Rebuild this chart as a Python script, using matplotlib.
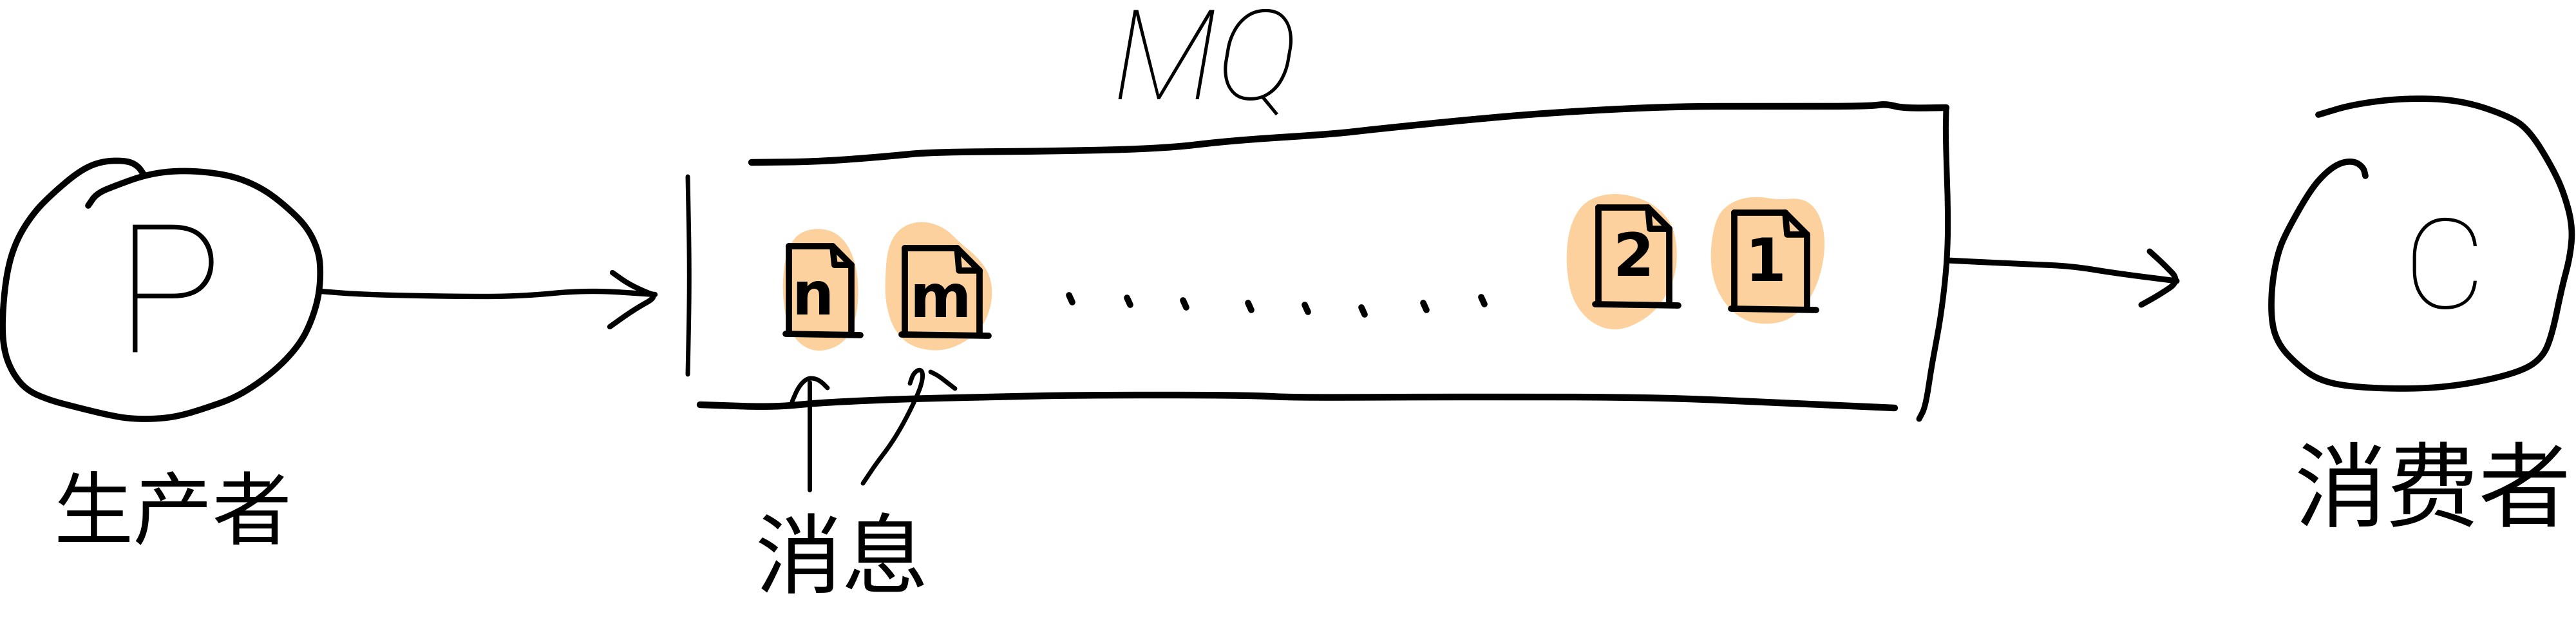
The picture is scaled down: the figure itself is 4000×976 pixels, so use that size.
import numpy as np
import matplotlib
matplotlib.use('Agg')
import matplotlib.pyplot as plt
from matplotlib.patches import Polygon

# labels
producer_label = '生产者'
consumer_label = '消费者'
message_label = '消息'
queue_label = 'MQ'
producer_mark = 'P'
consumer_mark = 'C'
msg_names = ['n', 'm', '2', '1']

# document icons (left, right, top, bottom) and text centres
doc_x0 = [1225, 1405, 2482, 2693]
doc_x1 = [1322, 1521, 2592, 2806]
doc_y0 = [382, 385, 322, 330]
doc_y1 = [518, 519, 472, 479]
name_x = [1262, 1460, 2537, 2742]
name_y = [462, 466, 402, 410]

# orange blobs behind the documents
blob_n = [(1214, 450), (1220, 392), (1238, 362), (1270, 353), (1302, 362), (1324, 392),
          (1334, 440), (1330, 495), (1312, 532), (1275, 547), (1243, 537), (1222, 505)]
blob_m = [(1374, 440), (1378, 383), (1398, 352), (1432, 342), (1467, 353), (1492, 378),
          (1517, 398), (1537, 425), (1542, 460), (1532, 497), (1512, 522), (1480, 540),
          (1450, 545), (1413, 537), (1388, 512), (1376, 475)]
blob_2 = [(2431, 400), (2438, 348), (2460, 312), (2500, 299), (2542, 305), (2575, 322),
          (2598, 350), (2605, 390), (2601, 430), (2583, 467), (2557, 494), (2520, 512),
          (2488, 510), (2458, 490), (2438, 456)]
blob_1 = [(2655, 390), (2665, 335), (2690, 312), (2725, 304), (2760, 310), (2800, 307),
          (2824, 328), (2835, 370), (2829, 422), (2810, 467), (2780, 496), (2745, 504),
          (2708, 498), (2678, 472), (2660, 436)]
blobs = [blob_n, blob_m, blob_2, blob_1]

# the dots between the messages
dot_x = [1660, 1750, 1837, 1938, 2026, 2114, 2210, 2300]
dot_y = [458, 462, 466, 470, 473, 477, 470, 461]

# hand drawn strokes
producer_circle = [(137, 319), (150, 300), (182, 287), (224, 272), (267, 265), (316, 266),
                   (365, 274), (407, 292), (442, 318), (477, 352), (495, 390), (498, 423),
                   (495, 460), (484, 497), (468, 530), (440, 563), (405, 592), (365, 617),
                   (323, 632), (281, 645), (246, 650), (203, 650), (168, 644), (119, 632),
                   (77, 621), (42, 606), (20, 580), (6, 545), (3, 497), (10, 423), (25, 373),
                   (52, 330), (84, 298), (125, 264), (158, 250), (196, 249), (214, 257), (224, 272)]
producer_arrow = [(498, 452), (561, 457), (701, 460), (807, 460), (912, 450), (1017, 457)]
producer_head = [(951, 423), (975, 440), (1000, 452), (1021, 460), (985, 480), (947, 507)]

mq_left = [(1068, 274), (1071, 430), (1068, 581)]
mq_top = [(1167, 252), (1268, 251), (1375, 243), (1442, 236), (1603, 235), (1804, 231),
          (1911, 218), (2071, 208), (2138, 200), (2339, 180), (2473, 171), (2607, 165),
          (2741, 165), (2902, 165), (2928, 161), (2955, 168), (3022, 167)]
mq_right = [(3022, 167), (3021, 212), (3025, 323), (3024, 402), (3014, 491), (3000, 564),
            (2990, 631), (2980, 650)]
mq_bottom = [(1087, 628), (1201, 632), (1268, 625), (1402, 619), (1536, 616), (1670, 613),
             (1937, 613), (2004, 617), (2205, 616), (2339, 616), (2473, 616), (2607, 618),
             (2741, 624), (2942, 633)]

consumer_arrow = [(3024, 404), (3084, 407), (3151, 410), (3218, 413), (3285, 424), (3380, 436)]
consumer_head = [(3338, 390), (3360, 410), (3385, 436), (3352, 458), (3325, 473)]
consumer_circle = [(3600, 178), (3653, 162), (3733, 152), (3821, 155), (3901, 182), (3930, 206),
                   (3961, 256), (3981, 298), (3995, 351), (3991, 398), (3978, 446), (3963, 519),
                   (3948, 555), (3914, 577), (3834, 596), (3754, 604), (3653, 601), (3600, 590),
                   (3566, 565), (3539, 536), (3527, 502), (3527, 446), (3537, 391), (3553, 355),
                   (3588, 294), (3613, 266), (3635, 252), (3656, 250), (3670, 260), (3673, 273)]

msg_arrow1 = [(1257, 760), (1257, 660), (1257, 593)]
msg_head1 = [(1230, 623), (1240, 600), (1253, 587), (1265, 587), (1275, 592), (1285, 602)]
msg_arrow2 = [(1340, 750), (1360, 720), (1383, 690), (1403, 657), (1423, 617), (1432, 593),
              (1433, 577), (1427, 573), (1418, 580), (1413, 595)]
msg_head2 = [(1445, 577), (1457, 583), (1470, 593), (1483, 603)]

ORANGE = '#fcd19e'
INK = 'black'
CJK = ['Noto Sans CJK SC', 'DejaVu Sans']


def smooth(pts, closed=False, rounds=4):
    # Chaikin corner cutting, keeps the ends of an open stroke
    p = np.asarray(pts, float)
    for _ in range(rounds):
        q = np.roll(p, -1, axis=0) if closed else p[1:]
        a = p if closed else p[:-1]
        cut = np.empty((2 * len(a), 2))
        cut[0::2] = 0.75 * a + 0.25 * q
        cut[1::2] = 0.25 * a + 0.75 * q
        p = cut if closed else np.vstack([p[0], cut, p[-1]])
    return p


def stroke(ax, pts, lw=7):
    s = smooth(pts)
    ax.plot(s[:, 0], s[:, 1], color=INK, lw=lw, solid_capstyle='round', solid_joinstyle='round')


fig = plt.figure(figsize=(40, 9.76), dpi=100)
ax = fig.add_axes([0, 0, 1, 1])
ax.set_xlim(0, 4000)
ax.set_ylim(976, 0)
ax.axis('off')

# producer
stroke(ax, producer_circle, 7)
stroke(ax, producer_arrow, 6)
stroke(ax, producer_head, 6)
ax.text(262, 470, producer_mark, ha='center', va='center', fontsize=200,
        family=['Roboto', 'DejaVu Sans'], fontweight='light', color=INK)
t_prod = ax.text(268, 800, producer_label, ha='center', va='center', fontsize=90,
                 family=CJK, color=INK)

# queue box
stroke(ax, mq_left, 5)
stroke(ax, mq_top, 7.5)
stroke(ax, mq_right, 6.5)
stroke(ax, mq_bottom, 7.5)
t_mq = ax.text(1871, 100, queue_label, ha='center', va='center', fontsize=140, style='italic',
               family=['Roboto', 'DejaVu Sans'], fontweight='light', color=INK)

# messages
for b in blobs:
    ax.add_patch(Polygon(smooth(b, closed=True), closed=True, facecolor=ORANGE,
                         edgecolor='none', zorder=1))

for x0, x1, y0, y1, nx, ny, name in zip(doc_x0, doc_x1, doc_y0, doc_y1, name_x, name_y, msg_names):
    f = 0.3 * (x1 - x0)
    kw = dict(color=INK, lw=7, solid_capstyle='round', solid_joinstyle='round', zorder=3)
    ax.plot([x0, x0], [y0, y1], **kw)
    ax.plot([x0, x1 - f, x1, x1], [y0, y0, y0 + f, y1], **kw)
    ax.plot([x1 - f, x1 - f + 3, x1], [y0, y0 + f, y0 + f], **kw)
    ax.plot([x0 - 5, x1 + 14], [y1, y1 + 2], **kw)
    ax.text(nx, ny, name, ha='center', va='center', fontsize=66, color=INK, zorder=4,
            family='DejaVu Sans', fontweight='bold')

for x, y in zip(dot_x, dot_y):
    ax.plot([x, x + 5], [y, y + 11], color=INK, lw=7, solid_capstyle='round')

# message pointers and label
stroke(ax, msg_arrow1, 5)
stroke(ax, msg_head1, 5)
stroke(ax, msg_arrow2, 5)
stroke(ax, msg_head2, 5)
t_msg = ax.text(1308, 872, message_label, ha='center', va='center', fontsize=98,
                family=CJK, color=INK)

# consumer
stroke(ax, consumer_arrow, 6.5)
stroke(ax, consumer_head, 6.5)
stroke(ax, consumer_circle, 7)
ax.text(3795, 425, consumer_mark, ha='center', va='center', fontsize=140,
        family=['Roboto', 'DejaVu Sans'], fontweight='light', color=INK)
t_cons = ax.text(3778, 766, consumer_label, ha='center', va='center', fontsize=102,
                 family=CJK, color=INK)

# size the labels to the width they take in the sketch (pixels)
fig.canvas.draw()
renderer = fig.canvas.get_renderer()
for t, w in [(t_prod, 370), (t_msg, 270), (t_cons, 430)]:
    bb = t.get_window_extent(renderer)
    t.set_fontsize(t.get_fontsize() * w / bb.width)

# keep the MQ title inside the top edge
bb = t_mq.get_window_extent(renderer)
if bb.height > 190:
    t_mq.set_fontsize(t_mq.get_fontsize() * 190 / bb.height)

fig.savefig('out.png', dpi=100, facecolor='white')
plt.close(fig)
